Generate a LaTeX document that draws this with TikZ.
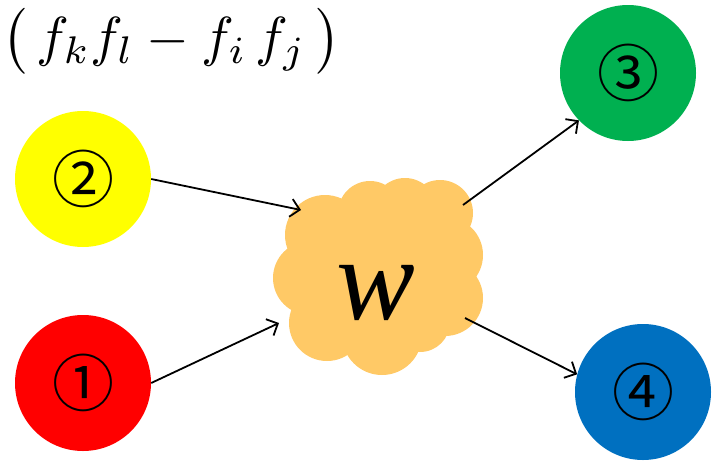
\documentclass[tikz,border=0pt]{standalone}
\usepackage{fontspec}
\usepackage{graphicx}
\newfontfamily\cjk{Noto Sans CJK SC}
\newfontfamily\tnr{Liberation Serif}
\usetikzlibrary{arrows.meta}
\definecolor{cyellow}{RGB}{255,255,0}
\definecolor{cred}{RGB}{255,0,0}
\definecolor{cgreen}{RGB}{0,176,80}
\definecolor{cblue}{RGB}{0,112,192}
\definecolor{ccloud}{RGB}{255,201,102}
\begin{document}
\begin{tikzpicture}[x=1pt,y=-1pt,
  ball/.style={circle,minimum size=136pt,inner sep=0pt,font=\cjk\fontsize{62}{62}\selectfont},
  conn/.style={line width=1.8pt,-{Straight Barb[length=9pt,width=18pt,line width=1.8pt]}}]
\useasboundingbox (0,0) rectangle (720,461);
% cloud
\begin{scope}[fill=ccloud]
\fill (325,235) circle (40);
\fill (370,213) circle (32);
\fill (405,210) circle (32);
\fill (440,213) circle (33);
\fill (445,255) circle (38);
\fill (445,298) circle (38);
\fill (420,322) circle (30);
\fill (382,335) circle (40);
\fill (327,323) circle (38);
\fill (310,278) circle (37);
\fill (378,278) circle (62);
\end{scope}
\node[inner sep=0pt,font=\tnr\itshape\fontsize{118}{118}\selectfont] (w) at (376,293) {w};
% balls
\node[ball,fill=cyellow] (n2) at (83,179) {②};
\node[ball,fill=cred] (n1) at (83,383) {①};
\node[ball,fill=cgreen] (n3) at (628,73) {③};
\node[ball,fill=cblue] (n4) at (643,392) {④};
% formula
\node[anchor=base west,inner sep=0pt,font=\fontsize{10}{12}\selectfont] (formula) at (2,55)
 {\scalebox{5.5}{$\bigl(\,f_kf_l - f_i\,f_j\,\bigr)$}};
% connector ends at the cloud
\coordinate (c2) at (301,210);
\coordinate (c1) at (279,323);
\coordinate (c3) at (463,205);
\coordinate (c4) at (465,318);
\draw[conn] (n2.east) -- (c2);
\draw[conn] (n1.east) -- (c1);
\draw[conn] (c3) -- (n3.224);
\draw[conn] (c4) -- (n4.165);
\end{tikzpicture}
\end{document}
